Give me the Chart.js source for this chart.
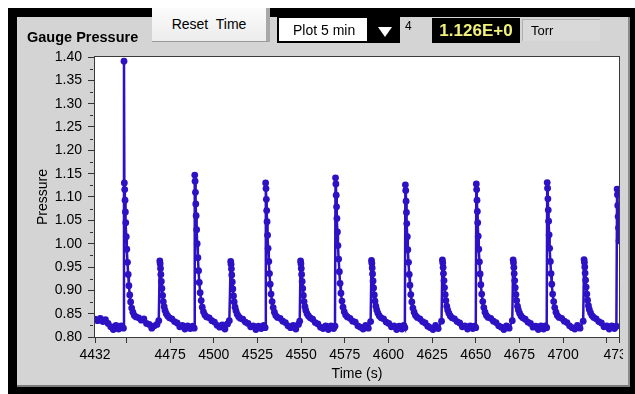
<!DOCTYPE html>
<html><head><meta charset="utf-8">
<script src="https://cdn.jsdelivr.net/npm/chart.js@4.4.1/dist/chart.umd.min.js"></script>
<style>
html,body{margin:0;padding:0;background:#fff;width:635px;height:394px;overflow:hidden;font-family:"Liberation Sans",Arial,sans-serif;}
#frame{position:absolute;left:8px;top:8px;width:627px;height:386px;background:#000;}
#panel{position:absolute;left:17px;top:17px;width:611px;height:368px;background:#d4d4d4;border-right:2px solid #8a8a8a;border-bottom:2px solid #7a7a7a;}
#chartbox{position:absolute;left:17px;top:17px;width:606px;height:368px;}
.btn{position:absolute;left:152px;top:8px;width:114px;height:33px;background:linear-gradient(#fbfbfb,#ececec);border-right:4px solid #a8a8a8;border-bottom:1px solid #9a9a9a;font-size:14px;line-height:33px;text-align:center;color:#000;}
.plot{position:absolute;left:277px;top:16px;width:88px;height:23px;background:#fff;border:2px solid #000;border-right:3px solid #000;font-size:14px;line-height:24px;color:#000;}
.plot span{position:absolute;left:14px;}
.arrow{position:absolute;left:370px;top:16px;width:30px;height:27px;background:#000;}
.arrow:after{content:"";position:absolute;left:8px;top:11px;border-left:7px solid transparent;border-right:7px solid transparent;border-top:10px solid #fff;}
.four{position:absolute;left:405px;top:19px;font-size:12px;color:#000;}
.disp{position:absolute;left:432px;top:18px;width:88px;height:25px;background:#000;color:#f2f27a;font-size:17px;line-height:25px;text-align:center;font-weight:bold;}
.torr{position:absolute;left:522px;top:19px;width:77px;height:21px;background:#d9d9d9;border-top:1px solid #b0b0b0;border-left:1px solid #b0b0b0;font-size:13px;line-height:22px;color:#000;}
.torr span{position:absolute;left:8px;}
</style></head>
<body>
<div id="frame"></div>
<div id="panel"></div>
<div id="chartbox"><canvas id="c" width="606" height="368"></canvas></div>
<div class="btn">Reset&nbsp; Time</div>
<div class="plot"><span>Plot 5 min</span></div>
<div class="arrow"></div>
<div class="four">4</div>
<div class="disp">1.126E+0</div>
<div class="torr"><span>Torr</span></div>
<script>
// ---- data (time in s, gauge pressure in Torr) ----
const timeSec = [
 4432,4433.5,4435,4436.5,4438,4439.5,4441,4442.5,4444,4445.5,4447,4448.3,
 4448.6,4448.8,4449.0,4449.2,4449.4,4449.6,4449.9,4450.2,4450.6,4451.0,4451.4,4451.9,4452.4,4453.0,4453.7,4454.5,4455.5,4457.0,4458.5,4460.0,4461.5,4463.0,4464.5,4466.0,4467.5,4468.5,
 4469.1,4469.3,4469.5,4469.7,4470.0,4470.3,4470.7,4471.1,4471.6,4472.1,4472.8,4473.6,4474.6,4476.0,4477.5,4479.0,4480.5,4482.0,4483.5,4485.0,4486.5,4488.0,4488.8,
 4489.1,4489.3,4489.5,4489.7,4489.9,4490.2,4490.5,4490.9,4491.3,4491.7,4492.2,4492.8,4493.4,4494.1,4494.9,4495.9,4497.4,4498.9,4500.4,4501.9,4503.4,4504.9,4506.4,4507.9,4508.9,
 4509.7,4509.9,4510.1,4510.3,4510.6,4510.9,4511.3,4511.7,4512.2,4512.7,4513.4,4514.2,4515.2,4516.6,4518.1,4519.6,4521.1,4522.6,4524.1,4525.6,4527.1,4528.6,4529.4,
 4529.7,4529.9,4530.1,4530.3,4530.5,4530.8,4531.1,4531.5,4531.9,4532.3,4532.8,4533.4,4534.0,4534.7,4535.5,4536.5,4538.0,4539.5,4541.0,4542.5,4544.0,4545.5,4547.0,4548.5,4549.2,
 4549.7,4549.9,4550.1,4550.3,4550.6,4550.9,4551.3,4551.7,4552.2,4552.7,4553.4,4554.2,4555.2,4556.6,4558.1,4559.6,4561.1,4562.6,4564.1,4565.6,4567.1,4568.6,4569.4,
 4569.7,4569.9,4570.1,4570.3,4570.5,4570.8,4571.1,4571.5,4571.9,4572.3,4572.8,4573.4,4574.0,4574.7,4575.5,4576.5,4578.0,4579.5,4581.0,4582.5,4584.0,4585.5,4587.0,4588.5,4589.8,
 4590.3,4590.5,4590.7,4590.9,4591.2,4591.5,4591.9,4592.3,4592.8,4593.3,4594.0,4594.8,4595.8,4597.2,4598.7,4600.2,4601.7,4603.2,4604.7,4606.2,4607.7,4608.8,4609.4,
 4609.7,4609.9,4610.1,4610.3,4610.5,4610.8,4611.1,4611.5,4611.9,4612.3,4612.8,4613.4,4614.0,4614.7,4615.5,4616.5,4618.0,4619.5,4621.0,4622.5,4624.0,4625.5,4627.0,4628.5,4630.4,
 4630.9,4631.1,4631.3,4631.5,4631.8,4632.1,4632.5,4632.9,4633.4,4633.9,4634.6,4635.4,4636.4,4637.8,4639.3,4640.8,4642.3,4643.8,4645.3,4646.8,4648.3,4649.3,4650.0,
 4650.3,4650.5,4650.7,4650.9,4651.1,4651.4,4651.7,4652.1,4652.5,4652.9,4653.4,4654.0,4654.6,4655.3,4656.1,4657.1,4658.6,4660.1,4661.6,4663.1,4664.6,4666.1,4667.6,4669.1,4670.9,
 4671.4,4671.6,4671.8,4672.0,4672.3,4672.6,4673.0,4673.4,4673.9,4674.4,4675.1,4675.9,4676.9,4678.3,4679.8,4681.3,4682.8,4684.3,4685.8,4687.3,4688.8,4689.8,4690.6,
 4690.9,4691.1,4691.3,4691.5,4691.7,4692.0,4692.3,4692.7,4693.1,4693.5,4694.0,4694.6,4695.2,4695.9,4696.7,4697.7,4699.2,4700.7,4702.2,4703.7,4705.2,4706.7,4708.2,4709.7,4711.5,
 4712.0,4712.2,4712.4,4712.6,4712.9,4713.2,4713.6,4714.0,4714.5,4715.0,4715.7,4716.5,4717.5,4718.9,4720.4,4721.9,4723.4,4724.9,4726.4,4727.9,4729.4,4730.5,
 4730.9,4731.1,4731.3,4731.5,4731.7,4732.0
];
const pressureTorr = [
 .838,.835,.840,.833,.837,.829,.822,.816,.825,.817,.824,.819,
 1.391,1.130,1.116,1.093,1.068,1.045,1.015,0.988,0.960,0.934,0.910,0.890,0.875,0.862,0.853,0.846,0.843,0.841,0.836,0.839,0.829,0.827,0.819,0.824,0.827,0.835,
 0.963,0.957,0.947,0.934,0.919,0.904,0.889,0.876,0.865,0.857,0.850,0.845,0.841,0.839,0.833,0.830,0.822,0.825,0.817,0.824,0.818,0.823,0.819,
 1.147,1.134,1.110,1.085,1.060,1.030,1.000,0.970,0.942,0.917,0.895,0.878,0.864,0.854,0.847,0.843,0.841,0.835,0.832,0.825,0.821,0.826,0.817,0.828,0.835,
 0.962,0.956,0.946,0.933,0.918,0.903,0.888,0.875,0.864,0.856,0.849,0.844,0.840,0.838,0.832,0.829,0.822,0.824,0.816,0.823,0.818,0.825,0.820,
 1.130,1.118,1.095,1.071,1.047,1.018,0.990,0.962,0.936,0.913,0.892,0.876,0.863,0.853,0.846,0.842,0.840,0.834,0.831,0.824,0.820,0.825,0.817,0.827,0.834,
 0.963,0.957,0.947,0.934,0.919,0.904,0.889,0.876,0.865,0.857,0.850,0.845,0.841,0.838,0.831,0.828,0.821,0.818,0.824,0.816,0.824,0.818,0.823,
 1.141,1.128,1.104,1.079,1.054,1.025,0.996,0.967,0.940,0.915,0.894,0.877,0.864,0.854,0.847,0.843,0.840,0.834,0.832,0.824,0.821,0.817,0.825,0.819,0.833,
 0.964,0.958,0.948,0.935,0.920,0.905,0.890,0.877,0.866,0.858,0.851,0.845,0.841,0.839,0.832,0.829,0.822,0.824,0.816,0.823,0.817,0.825,0.820,
 1.126,1.114,1.091,1.067,1.043,1.015,0.987,0.960,0.934,0.911,0.891,0.875,0.862,0.853,0.846,0.842,0.839,0.833,0.830,0.823,0.820,0.816,0.825,0.818,0.834,
 0.965,0.959,0.949,0.936,0.921,0.906,0.891,0.878,0.866,0.858,0.851,0.845,0.841,0.839,0.833,0.830,0.822,0.824,0.817,0.824,0.818,0.823,0.820,
 1.128,1.116,1.093,1.069,1.045,1.016,0.988,0.961,0.935,0.912,0.892,0.876,0.863,0.853,0.846,0.842,0.840,0.834,0.831,0.824,0.821,0.816,0.824,0.819,0.835,
 0.965,0.959,0.949,0.936,0.921,0.906,0.891,0.878,0.866,0.858,0.851,0.845,0.841,0.838,0.832,0.829,0.821,0.823,0.816,0.824,0.817,0.824,0.820,
 1.131,1.119,1.096,1.072,1.048,1.019,0.990,0.962,0.936,0.913,0.892,0.876,0.863,0.853,0.846,0.842,0.840,0.834,0.831,0.824,0.820,0.817,0.825,0.819,0.834,
 0.966,0.960,0.950,0.937,0.922,0.907,0.892,0.879,0.867,0.859,0.852,0.846,0.842,0.839,0.833,0.830,0.822,0.824,0.817,0.824,0.818,0.823,
 1.117,1.105,1.082,1.058,1.034,1.006
];
const xTickValues = [4432,4450,4475,4500,4525,4550,4575,4600,4625,4650,4675,4700,4725,4732];
const xTickLabels = ['4432','','4475','4500','4525','4550','4575','4600','4625','4650','4675','4700','','4732'];
const yMin = 0.80, yMax = 1.40, yStep = 0.05;
const chartTitle = 'Gauge Pressure', xTitle = 'Time (s)', yTitle = 'Pressure';

const lineColor = 'rgb(44,18,196)';
Chart.defaults.font.family = '"Liberation Sans", Arial, sans-serif';
Chart.defaults.font.size = 14;
Chart.defaults.color = '#000';

const framePlugin = {
  id: 'frame',
  beforeDraw(chart){
    const {ctx, chartArea:a} = chart;
    ctx.save(); ctx.fillStyle = '#fff';
    ctx.fillRect(a.left, a.top, a.right - a.left, a.bottom - a.top);
    ctx.restore();
  },
  afterDraw(chart){
    const {ctx, chartArea:a} = chart;
    const ys = chart.scales.y;
    ctx.save();
    ctx.strokeStyle = '#3a3a3a'; ctx.lineWidth = 1;
    ctx.strokeRect(Math.round(a.left) - 0.5, Math.round(a.top) - 0.5, Math.round(a.right - a.left) + 1, Math.round(a.bottom - a.top) + 1);
    ctx.strokeStyle = '#333';
    for (let v = yMin + yStep / 2; v < yMax; v += yStep) {
      const py = Math.round(ys.getPixelForValue(v)) + 0.5;
      ctx.beginPath(); ctx.moveTo(a.left - 5, py); ctx.lineTo(a.left - 2, py); ctx.stroke();
    }
    ctx.restore();
  }
};

new Chart(document.getElementById('c'), {
  type: 'line',
  data: {
    datasets: [{
      data: timeSec.map((t, i) => ({x: t, y: pressureTorr[i]})),
      borderColor: lineColor,
      backgroundColor: lineColor,
      borderWidth: 2.5,
      pointRadius: 3.4,
      pointBorderWidth: 0,
      pointBackgroundColor: lineColor,
      tension: 0
    }]
  },
  options: {
    responsive: false,
    animation: false,
    layout: {padding: {left: 10, right: 3, top: 0, bottom: 0}},
    plugins: {
      legend: {display: false},
      tooltip: {enabled: false},
      title: {display: true, text: chartTitle, align: 'start', color: '#000',
        font: {size: 14.5, weight: 'bold'}, padding: {top: 12.6, bottom: 10}}
    },
    scales: {
      x: {
        type: 'linear', min: 4432, max: 4732,
        afterBuildTicks: s => { s.ticks = xTickValues.map(v => ({value: v})); },
        afterFit: s => { s.height = 48; s.paddingLeft = 0; s.paddingRight = 0; },
        ticks: {autoSkip: false, maxRotation: 0, padding: 4,
          callback: (v, i) => xTickLabels[i]},
        grid: {drawOnChartArea: false, drawTicks: true, tickLength: 6, tickColor: '#333'},
        border: {display: false},
        title: {display: true, text: xTitle, padding: {top: 0, bottom: 2}}
      },
      y: {
        min: yMin, max: yMax,
        afterFit: s => { s.width = 68; s.paddingTop = 0; s.paddingBottom = 0; },
        ticks: {stepSize: yStep, padding: 6, callback: v => v.toFixed(2)},
        grid: {drawOnChartArea: false, drawTicks: true, tickLength: 7, tickColor: '#333'},
        border: {display: false},
        title: {display: true, text: yTitle, padding: {top: 8, bottom: 0}}
      }
    }
  },
  plugins: [framePlugin]
});
</script>
</body></html>
